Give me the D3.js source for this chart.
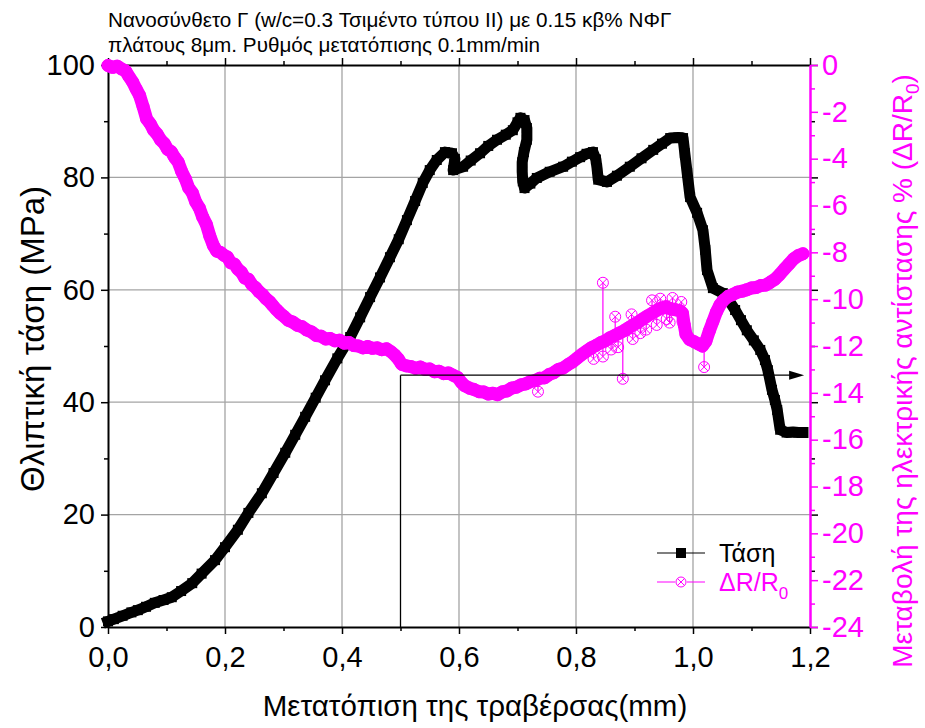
<!DOCTYPE html>
<html>
<head>
<meta charset="utf-8">
<script src="https://cdn.jsdelivr.net/npm/d3@7"></script>
<style>
  html, body { margin: 0; padding: 0; background: #fff; }
  svg { display: block; font-family: "Liberation Sans", Arial, sans-serif; }
</style>
</head>
<body>
<svg id="chart" width="925" height="728"></svg>
<script>
// Compressive stress (MPa) against crosshead displacement (mm)
const stress = [
  [0.000, 1.0], [0.010, 1.4], [0.025, 2.0], [0.040, 2.6], [0.051, 3.0], [0.065, 3.6],
  [0.080, 4.3], [0.095, 4.8], [0.109, 5.3], [0.125, 6.4], [0.144, 7.8], [0.160, 9.5],
  [0.183, 11.9], [0.200, 14.2], [0.222, 17.3], [0.240, 20.3], [0.263, 23.8], [0.283, 27.4],
  [0.303, 31.0], [0.320, 34.2], [0.337, 37.4], [0.355, 40.8], [0.371, 43.9], [0.392, 47.8],
  [0.414, 51.6], [0.431, 55.1], [0.448, 58.7], [0.465, 62.2], [0.482, 65.8], [0.497, 69.0],
  [0.511, 72.4], [0.525, 75.8], [0.538, 79.0], [0.550, 81.3], [0.562, 83.1], [0.576, 84.5],
  [0.588, 84.3], [0.593, 83.3], [0.590, 81.3], [0.607, 81.9], [0.620, 83.0], [0.636, 84.3],
  [0.650, 85.6], [0.665, 86.7], [0.680, 87.6], [0.692, 88.4], [0.700, 89.8], [0.705, 90.6],
  [0.712, 90.2], [0.716, 88.8], [0.716, 86.7], [0.711, 84.5], [0.708, 82.7], [0.708, 81.0],
  [0.709, 79.3], [0.712, 78.1], [0.722, 78.9], [0.733, 79.9], [0.755, 81.0], [0.778, 81.9],
  [0.793, 82.8], [0.807, 83.6], [0.818, 84.2], [0.829, 84.5], [0.834, 83.2], [0.836, 81.6],
  [0.838, 79.6], [0.853, 79.2], [0.870, 80.3], [0.892, 81.9], [0.912, 83.4], [0.932, 84.9],
  [0.947, 86.0], [0.961, 87.0], [0.975, 87.1], [0.983, 87.0], [0.986, 84.3], [0.990, 80.8],
  [0.995, 76.5], [1.007, 73.7], [1.017, 70.6], [1.021, 67.1], [1.024, 63.5], [1.034, 60.3],
  [1.051, 59.4], [1.062, 58.0], [1.072, 56.4], [1.082, 54.6], [1.092, 52.8], [1.104, 51.0],
  [1.115, 49.3], [1.123, 47.5], [1.128, 45.7], [1.135, 42.2], [1.140, 40.4], [1.144, 38.6],
  [1.149, 35.1], [1.160, 34.6], [1.171, 34.7], [1.180, 34.6], [1.188, 34.6]
];

// Relative change of electrical resistance ΔR/R0 (%) — main trace
const drBand = [
  [0.000, -0.02], [0.008, -0.10], [0.016, -0.05], [0.024, -0.18], [0.030, -0.25], [0.036, -0.50],
  [0.042, -0.72], [0.048, -1.02], [0.054, -1.30], [0.060, -1.78], [0.066, -2.30], [0.072, -2.50],
  [0.078, -2.78], [0.084, -2.95], [0.090, -3.20], [0.096, -3.35], [0.102, -3.60], [0.108, -3.70],
  [0.114, -3.95], [0.120, -4.15], [0.126, -4.55], [0.132, -4.85], [0.138, -5.25], [0.144, -5.45],
  [0.150, -5.85], [0.156, -6.10], [0.162, -6.50], [0.168, -6.80], [0.174, -7.30], [0.180, -7.70],
  [0.186, -7.95], [0.192, -8.00], [0.198, -8.12], [0.204, -8.20], [0.210, -8.45], [0.216, -8.50],
  [0.222, -8.72], [0.228, -8.85], [0.234, -9.10], [0.240, -9.15], [0.246, -9.38], [0.252, -9.50],
  [0.258, -9.68], [0.264, -9.80], [0.270, -9.98], [0.276, -10.10], [0.282, -10.28], [0.288, -10.45],
  [0.294, -10.60], [0.300, -10.72], [0.308, -10.90], [0.316, -10.98], [0.324, -11.12], [0.332, -11.18],
  [0.340, -11.32], [0.348, -11.40], [0.356, -11.55], [0.364, -11.58], [0.372, -11.70], [0.380, -11.68],
  [0.388, -11.78], [0.396, -11.75], [0.404, -11.88], [0.412, -11.85], [0.420, -11.98], [0.428, -12.00],
  [0.436, -12.08], [0.444, -12.02], [0.452, -12.10], [0.460, -12.08], [0.468, -12.16], [0.476, -12.12],
  [0.484, -12.25], [0.490, -12.38], [0.496, -12.55], [0.502, -12.78], [0.510, -12.85], [0.518, -12.88],
  [0.526, -12.95], [0.534, -12.90], [0.542, -13.00], [0.550, -12.98], [0.558, -13.10], [0.566, -13.08],
  [0.574, -13.18], [0.582, -13.15], [0.590, -13.25], [0.598, -13.35], [0.604, -13.55], [0.610, -13.70],
  [0.618, -13.80], [0.626, -13.86], [0.634, -13.95], [0.642, -13.96], [0.650, -14.05], [0.658, -14.02],
  [0.666, -14.08], [0.674, -13.96], [0.682, -13.92], [0.690, -13.80], [0.698, -13.76], [0.706, -13.66],
  [0.714, -13.62], [0.722, -13.52], [0.730, -13.48], [0.738, -13.38], [0.746, -13.36], [0.754, -13.22],
  [0.762, -13.14], [0.770, -13.00], [0.778, -12.94], [0.786, -12.80], [0.794, -12.68], [0.802, -12.52],
  [0.810, -12.36], [0.818, -12.22], [0.826, -12.08], [0.834, -11.98], [0.842, -11.86], [0.850, -11.78],
  [0.858, -11.65], [0.866, -11.55], [0.874, -11.45], [0.882, -11.35], [0.890, -11.22], [0.898, -11.10],
  [0.906, -10.98], [0.914, -10.85], [0.922, -10.72], [0.930, -10.60], [0.938, -10.48], [0.946, -10.38],
  [0.954, -10.32], [0.962, -10.42], [0.970, -10.45], [0.978, -10.50], [0.982, -10.60], [0.985, -11.10],
  [0.988, -11.50], [0.994, -11.72], [1.002, -11.82], [1.010, -11.92], [1.016, -12.00], [1.022, -11.80],
  [1.028, -11.35], [1.034, -10.95], [1.040, -10.55], [1.046, -10.25], [1.052, -10.05], [1.060, -9.88],
  [1.068, -9.80], [1.076, -9.70], [1.084, -9.66], [1.092, -9.60], [1.100, -9.52], [1.108, -9.50],
  [1.116, -9.42], [1.124, -9.40], [1.132, -9.28], [1.140, -9.15], [1.148, -8.95], [1.156, -8.72],
  [1.164, -8.50], [1.172, -8.28], [1.180, -8.14], [1.188, -8.06]
];

// Readings that leave the main trace: [x, value on trace, reading]
const drScatter = [
  [0.735, -13.42, -13.95], [0.830, -12.02, -12.55], [0.846, -11.82, -9.30], [0.846, -11.82, -12.45],
  [0.860, -11.62, -12.15], [0.867, -11.55, -10.75], [0.872, -11.48, -12.05], [0.880, -11.38, -13.40],
  [0.895, -11.15, -10.65], [0.897, -11.12, -11.70], [0.910, -10.92, -11.45], [0.920, -10.75, -11.30],
  [0.930, -10.60, -10.05], [0.938, -10.48, -11.10], [0.944, -10.40, -9.98], [0.955, -10.32, -10.85],
  [0.960, -10.40, -11.00], [0.965, -10.43, -9.95], [0.980, -10.55, -10.12], [0.982, -10.60, -10.95],
  [1.019, -11.95, -12.90]
];

// Axis ticks and labels
const xTicks = [0.0, 0.2, 0.4, 0.6, 0.8, 1.0, 1.2];
const xMinor = [0.1, 0.3, 0.5, 0.7, 0.9, 1.1];
const stressTicks = [0, 20, 40, 60, 80, 100];
const stressMinor = [10, 30, 50, 70, 90];
const drTicks = [0, -2, -4, -6, -8, -10, -12, -14, -16, -18, -20, -22, -24];
const drMinor = [-1, -3, -5, -7, -9, -11, -13, -15, -17, -19, -21, -23];

// Marker line: from displacement 0.5 mm at 44.8 MPa across to the right axis
const guideX = [0.5, 1.19];
const guideStress = [44.8];

const titleLines = [
  "Νανοσύνθετο Γ (w/c=0.3 Τσιμέντο τύπου II) με 0.15 κβ% ΝΦΓ",
  "πλάτους 8μm. Ρυθμός μετατόπισης 0.1mm/min"
];

const MAG = "#ff00ff";
const svg = d3.select("#chart");
const L = 108, R = 810, T = 65, B = 627;

const x = d3.scaleLinear().domain([0, 1.2]).range([L, R]);
const yL = d3.scaleLinear().domain([0, 100]).range([B, T]);
const yR = d3.scaleLinear().domain([-24, 0]).range([B, T]);
const fmtX = d => d3.format(".1f")(d).replace(".", ",");

// Grid
const grid = svg.append("g").attr("stroke", "#a4a4a4").attr("stroke-width", 1.3);
grid.selectAll("line.gx").data(xTicks.slice(1, -1)).join("line")
  .attr("x1", d => x(d)).attr("x2", d => x(d)).attr("y1", T).attr("y2", B);
grid.selectAll("line.gy").data(stressTicks.slice(1, -1)).join("line")
  .attr("x1", L).attr("x2", R).attr("y1", d => yL(d)).attr("y2", d => yL(d));

// Axes
function styleAxis(g, color, width) {
  g.select(".domain").attr("stroke", color).attr("stroke-width", width);
  g.selectAll(".tick line").attr("stroke", color).attr("stroke-width", 1.5);
  g.selectAll(".tick text").attr("fill", color);
}
function minorTicks(g, color) {
  g.select(".domain").remove();
  g.selectAll("line").attr("stroke", color).attr("stroke-width", 1.5);
}
const fontSize = 29;

const axL = svg.append("g").attr("transform", `translate(${L},0)`)
  .call(d3.axisLeft(yL).tickValues(stressTicks).tickSize(7).tickSizeOuter(0).tickPadding(6).tickFormat(d => String(d)));
axL.selectAll("text").attr("font-size", fontSize).attr("font-family", "Liberation Sans, Arial");
styleAxis(axL, "#000", 2);
svg.append("g").attr("transform", `translate(${L},0)`)
  .call(d3.axisLeft(yL).tickValues(stressMinor).tickSize(4).tickSizeOuter(0).tickFormat(""))
  .call(g => minorTicks(g, "#000"));

const axB = svg.append("g").attr("transform", `translate(0,${B})`)
  .call(d3.axisBottom(x).tickValues(xTicks).tickSize(7).tickSizeOuter(0).tickPadding(12).tickFormat(fmtX));
axB.selectAll("text").attr("font-size", fontSize).attr("font-family", "Liberation Sans, Arial");
styleAxis(axB, "#000", 2);
svg.append("g").attr("transform", `translate(0,${B})`)
  .call(d3.axisBottom(x).tickValues(xMinor).tickSize(4).tickSizeOuter(0).tickFormat(""))
  .call(g => minorTicks(g, "#000"));

// Top axis (ticks only)
const axT = svg.append("g").attr("transform", `translate(0,${T})`)
  .call(d3.axisTop(x).tickValues(xTicks).tickSize(7).tickSizeOuter(0).tickFormat(""));
styleAxis(axT, "#000", 2);
svg.append("g").attr("transform", `translate(0,${T})`)
  .call(d3.axisTop(x).tickValues(xMinor).tickSize(4).tickSizeOuter(0).tickFormat(""))
  .call(g => minorTicks(g, "#000"));

// Stress ticks repeated on the right side
svg.append("g").attr("transform", `translate(${R},0)`)
  .call(d3.axisRight(yL).tickValues(stressTicks).tickSize(8).tickSizeOuter(0).tickFormat(""))
  .call(g => minorTicks(g, "#000"));
svg.append("g").attr("transform", `translate(${R},0)`)
  .call(d3.axisRight(yL).tickValues(stressMinor).tickSize(5).tickSizeOuter(0).tickFormat(""))
  .call(g => minorTicks(g, "#000"));

// Right axis: ΔR/R0
const axR = svg.append("g").attr("transform", `translate(${R},0)`)
  .call(d3.axisRight(yR).tickValues(drTicks).tickSize(8).tickSizeOuter(0).tickPadding(4).tickFormat(d => String(d)));
axR.selectAll("text").attr("font-size", fontSize).attr("font-family", "Liberation Sans, Arial");
styleAxis(axR, MAG, 2.5);
svg.append("g").attr("transform", `translate(${R},0)`)
  .call(d3.axisRight(yR).tickValues(drMinor).tickSize(5).tickSizeOuter(0).tickFormat(""))
  .call(g => minorTicks(g, MAG));

// Stress series: dense square markers forming a solid trace
const plot = svg.append("g");
const lineS = d3.line().x(d => x(d[0])).y(d => yL(d[1]));
plot.append("path").datum(stress).attr("d", lineS)
  .attr("fill", "none").attr("stroke", "#000").attr("stroke-width", 11)
  .attr("stroke-linejoin", "round").attr("stroke-linecap", "square");
plot.append("g").selectAll("rect").data(stress).join("rect")
  .attr("x", d => x(d[0]) - 5).attr("y", d => yL(d[1]) - 5)
  .attr("width", 10).attr("height", 10).attr("fill", "#000");

// ΔR/R0 series
const lineD = d3.line().x(d => x(d[0])).y(d => yR(d[1]));
plot.append("path").datum(drBand).attr("d", lineD)
  .attr("fill", "none").attr("stroke", MAG).attr("stroke-width", 13)
  .attr("stroke-linejoin", "round").attr("stroke-linecap", "round");
plot.append("g").selectAll("line").data(drScatter).join("line")
  .attr("x1", d => x(d[0])).attr("x2", d => x(d[0]))
  .attr("y1", d => yR(d[1])).attr("y2", d => yR(d[2]))
  .attr("stroke", MAG).attr("stroke-width", 1.2);

function crossCircle(g, cx, cy, r) {
  const k = r * 0.7071;
  g.append("circle").attr("cx", cx).attr("cy", cy).attr("r", r)
    .attr("fill", "none").attr("stroke", MAG).attr("stroke-width", 1);
  g.append("path").attr("d", `M${cx - k},${cy - k}L${cx + k},${cy + k}M${cx - k},${cy + k}L${cx + k},${cy - k}`)
    .attr("stroke", MAG).attr("stroke-width", 1).attr("fill", "none");
}
const mk = plot.append("g");
drBand.forEach(d => crossCircle(mk, x(d[0]), yR(d[1]), 6));
drScatter.forEach(d => crossCircle(mk, x(d[0]), yR(d[2]), 5.5));

// Guide line with arrow
const guide = svg.append("g").attr("stroke", "#000").attr("stroke-width", 1.3).attr("fill", "none");
guide.append("line").attr("x1", x(guideX[0])).attr("x2", x(guideX[0]))
  .attr("y1", yL(0)).attr("y2", yL(guideStress[0]));
guide.append("line").attr("x1", x(guideX[0])).attr("x2", x(guideX[1]) - 12)
  .attr("y1", yL(guideStress[0])).attr("y2", yL(guideStress[0]));
const ax1 = x(guideX[1]), ay = yL(guideStress[0]);
svg.append("path").attr("d", `M${ax1},${ay}L${ax1 - 15},${ay - 4.5}L${ax1 - 15},${ay + 4.5}Z`).attr("fill", "#000");

// Title
svg.append("g").selectAll("text").data(titleLines).join("text")
  .attr("x", L).attr("y", (d, i) => 27 + i * 25)
  .attr("font-size", 20.7).attr("fill", "#000").text(d => d);

// Axis titles
svg.append("text").attr("transform", "translate(44,339) rotate(-90)")
  .attr("text-anchor", "middle").attr("font-size", 33).attr("fill", "#000")
  .text("Θλιπτική τάση (MPa)");
svg.append("text").attr("x", 475).attr("y", 716)
  .attr("text-anchor", "middle").attr("font-size", 29.5).attr("fill", "#000")
  .text("Μετατόπιση της τραβέρσας(mm)");
const rt = svg.append("text").attr("transform", "translate(912,371) rotate(-90)")
  .attr("text-anchor", "middle").attr("font-size", 28).attr("fill", MAG);
rt.append("tspan").text("Μεταβολή της ηλεκτρικής αντίστασης % (ΔR/R");
rt.append("tspan").attr("font-size", 19).attr("dy", 7).text("0");
rt.append("tspan").attr("dy", -7).text(")");

// Legend
const lg = svg.append("g");
lg.append("line").attr("x1", 657).attr("x2", 705).attr("y1", 553).attr("y2", 553)
  .attr("stroke", "#000").attr("stroke-width", 1.2);
lg.append("rect").attr("x", 676).attr("y", 548).attr("width", 10).attr("height", 10).attr("fill", "#000");
lg.append("text").attr("x", 719).attr("y", 562).attr("font-size", 25).attr("fill", "#000").text("Τάση");
lg.append("line").attr("x1", 657).attr("x2", 705).attr("y1", 582).attr("y2", 582)
  .attr("stroke", MAG).attr("stroke-width", 1.2);
lg.append("circle").attr("cx", 681).attr("cy", 582).attr("r", 6).attr("fill", "#fff");
crossCircle(lg, 681, 582, 5);
const lt = lg.append("text").attr("x", 719).attr("y", 591).attr("font-size", 25).attr("fill", MAG);
lt.append("tspan").text("ΔR/R");
lt.append("tspan").attr("font-size", 17).attr("dy", 8).text("0");
</script>
</body>
</html>
